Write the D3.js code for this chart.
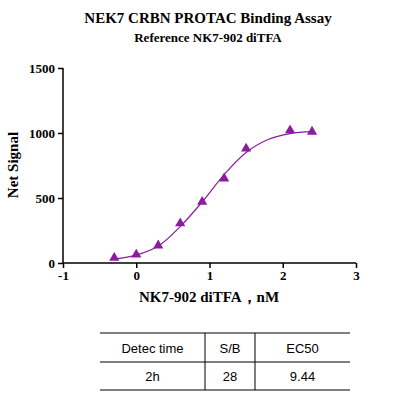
<!DOCTYPE html><html><head><meta charset="utf-8"><script src="https://d3js.org/d3.v7.min.js"></script>
<style>body{margin:0;background:#fff}</style></head><body><svg id="c" width="416" height="402"></svg>
<script>
const pointX=[-0.3,0,0.3,0.6,0.9,1.2,1.5,2.1,2.4];
const pointY=[40,65,135,305,470,650,880,1020,1010];
const curveX=[-0.3,0,0.3,0.6,0.9,1.2,1.5,1.8,2.1,2.4];
const curveY=[30,60,130,280,470,680,850,950,995,1010];
const xTicks=[-1,0,1,2,3];
const yTicks=[0,500,1000,1500];
const tableHead=["Detec time","S/B","EC50"];
const tableRow=["2h","28","9.44"];
const col="#8a1c9e";
const svg=d3.select("#c");
const x=d3.scaleLinear().domain([-1,3]).range([63,356]);
const y=d3.scaleLinear().domain([0,1500]).range([263,68]);
const serif="'Liberation Serif','Times New Roman',serif";
svg.append("text").attr("x",208).attr("y",23).attr("text-anchor","middle").attr("font-family",serif).attr("font-weight","bold").attr("font-size",15).text("NEK7 CRBN PROTAC Binding Assay");
svg.append("text").attr("x",208).attr("y",42).attr("text-anchor","middle").attr("font-family",serif).attr("font-weight","bold").attr("font-size",13).text("Reference NK7-902 diTFA");
const gx=svg.append("g").attr("transform","translate(0,263)").call(d3.axisBottom(x).tickValues(xTicks).tickFormat(d=>String(d)).tickSize(5));
const gy=svg.append("g").attr("transform","translate(63,0)").call(d3.axisLeft(y).tickValues(yTicks).tickFormat(d=>String(d)).tickSize(5));
[gx,gy].forEach(g=>{g.selectAll("path,line").attr("stroke","#000").attr("stroke-width",1.5);g.selectAll("text").attr("font-family",serif).attr("font-weight","bold").attr("font-size",13).attr("fill","#000");});
gx.select(".domain").attr("d","M63,0H356");
gy.select(".domain").attr("d","M0,68V263");
svg.append("text").attr("transform","translate(18,165) rotate(-90)").attr("text-anchor","middle").attr("font-family",serif).attr("font-weight","bold").attr("font-size",15).text("Net Signal");
svg.append("text").attr("x",209).attr("y",302).attr("text-anchor","middle").attr("font-family",serif).attr("font-weight","bold").attr("font-size",15).text("NK7-902 diTFA，nM");
svg.append("path").datum(curveX.map((d,i)=>[d,curveY[i]])).attr("fill","none").attr("stroke",col).attr("stroke-width",1.2)
 .attr("d",d3.line().x(d=>x(d[0])).y(d=>y(d[1])).curve(d3.curveCatmullRom));
svg.selectAll(".p").data(pointX.map((d,i)=>[d,pointY[i]])).enter().append("path")
 .attr("d",d3.symbol().type(d3.symbolTriangle).size(45)).attr("fill",col)
 .attr("transform",d=>`translate(${x(d[0])},${y(d[1])})`);
const cols=[100,205,255,350], rows=[333,362,390];
const t=svg.append("g").attr("stroke","#000").attr("stroke-width",1);
rows.forEach(r=>t.append("line").attr("x1",cols[0]).attr("x2",cols[3]).attr("y1",r).attr("y2",r));
cols.slice(1,3).forEach(c=>t.append("line").attr("x1",c).attr("x2",c).attr("y1",rows[0]).attr("y2",rows[2]));
[tableHead,tableRow].forEach((row,ri)=>row.forEach((s,ci)=>svg.append("text").attr("x",(cols[ci]+cols[ci+1])/2).attr("y",(rows[ri]+rows[ri+1])/2+5).attr("text-anchor","middle").attr("font-family","Arial,'Liberation Sans',sans-serif").attr("font-size",13).text(s)));
</script></body></html>
